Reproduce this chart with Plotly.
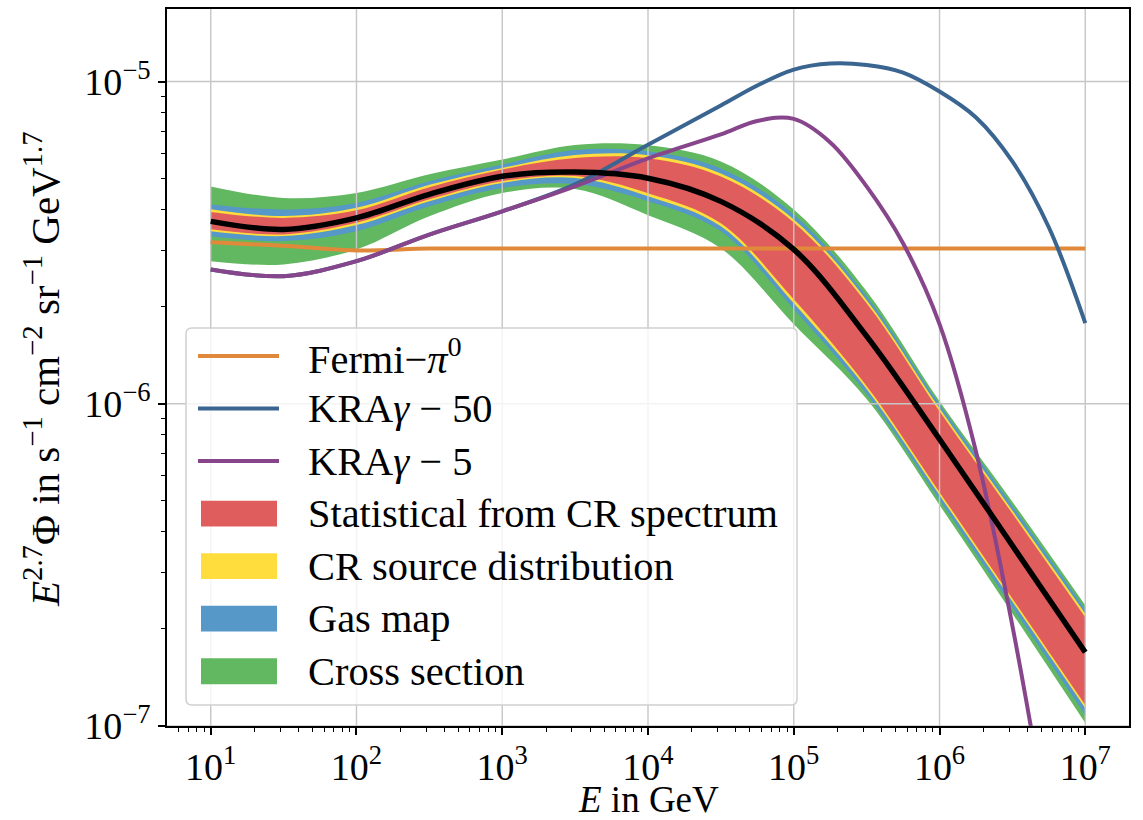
import plotly.graph_objects as go

# ---------------- data ----------------
E_band = [1e1, 3.16e1, 1e2, 3.16e2, 1e3, 3.16e3, 1e4, 3.16e4, 1e5, 3.16e5, 1e6, 3.16e6, 1e7]
central = [3.681e-6, 3.475e-6, 3.776e-6, 4.467e-6, 5.082e-6, 5.236e-6, 5.012e-6, 4.246e-6,
           3.013e-6, 1.622e-6, 7.762e-7, 3.631e-7, 1.694e-7]
stat_hi = [3.939e-6, 3.773e-6, 3.982e-6, 4.696e-6, 5.331e-6, 5.786e-6, 5.778e-6, 5.074e-6,
           3.653e-6, 2.052e-6, 9.475e-7, 4.562e-7, 2.174e-7]
stat_lo = [3.477e-6, 3.354e-6, 3.643e-6, 4.310e-6, 4.905e-6, 5.089e-6, 4.502e-6, 3.630e-6,
           2.109e-6, 1.135e-6, 5.317e-7, 2.488e-7, 1.161e-7]
src_hi = [4.011e-6, 3.822e-6, 4.054e-6, 4.780e-6, 5.393e-6, 5.911e-6, 5.903e-6, 5.184e-6,
          3.732e-6, 2.096e-6, 9.680e-7, 4.661e-7, 2.232e-7]
src_lo = [3.428e-6, 3.313e-6, 3.584e-6, 4.249e-6, 4.845e-6, 5.017e-6, 4.407e-6, 3.553e-6,
          2.050e-6, 1.111e-6, 5.204e-7, 2.435e-7, 1.136e-7]
gas_hi = [4.156e-6, 4.008e-6, 4.201e-6, 4.901e-6, 5.525e-6, 6.126e-6, 6.074e-6, 5.373e-6,
          3.868e-6, 2.157e-6, 9.961e-7, 4.829e-7, 2.302e-7]
gas_lo = [3.308e-6, 3.197e-6, 3.433e-6, 4.100e-6, 4.675e-6, 4.807e-6, 4.252e-6, 3.428e-6,
          1.964e-6, 1.072e-6, 5.022e-7, 2.333e-7, 1.081e-7]
xs_hi = [4.726e-6, 4.353e-6, 4.511e-6, 5.151e-6, 5.726e-6, 6.349e-6, 6.341e-6, 5.648e-6,
         4.008e-6, 2.235e-6, 1.018e-6, 4.969e-7, 2.369e-7]
xs_lo = [2.768e-6, 2.707e-6, 3.013e-6, 3.818e-6, 4.511e-6, 4.638e-6, 3.848e-6, 3.037e-6,
         1.765e-6, 1.034e-6, 4.847e-7, 2.236e-7, 1.021e-7]

E_fermi = [1e1, 3.16e1, 1e2, 3.16e2, 1e3, 1e4, 1e5, 1e6, 1e7]
fermi = [3.17e-6, 3.09e-6, 2.99e-6, 3.03e-6, 3.03e-6, 3.03e-6, 3.03e-6, 3.03e-6, 3.03e-6]

E_kra50 = [1e1, 3.16e1, 1e2, 3.16e2, 1e3, 3.16e3, 1e4, 3.16e4, 5.62e4, 1e5, 1.78e5, 3.16e5,
           5.62e5, 1e6, 1.78e6, 3.16e6, 5.62e6, 1e7]
kra50 = [2.611e-6, 2.489e-6, 2.770e-6, 3.350e-6, 3.956e-6, 4.797e-6, 6.368e-6, 8.426e-6,
         9.719e-6, 1.089e-5, 1.137e-5, 1.125e-5, 1.066e-5, 9.310e-6, 7.737e-6, 5.652e-6,
         3.530e-6, 1.780e-6]

E_kra5 = [1e1, 3.16e1, 1e2, 3.16e2, 1e3, 3.16e3, 1e4, 3.16e4, 5.62e4, 1e5, 1.78e5, 3.16e5,
          5.62e5, 1e6, 1.78e6, 3.16e6, 5.62e6]
kra5 = [2.611e-6, 2.489e-6, 2.770e-6, 3.350e-6, 3.956e-6, 4.727e-6, 5.774e-6, 6.851e-6,
        7.545e-6, 7.653e-6, 6.472e-6, 4.727e-6, 3.149e-6, 1.767e-6, 7.093e-7, 2.050e-7, 4.753e-8]

x_tickvals = [1e1, 1e2, 1e3, 1e4, 1e5, 1e6, 1e7]
x_ticktext = ["10<sup>1</sup>", "10<sup>2</sup>", "10<sup>3</sup>", "10<sup>4</sup>",
              "10<sup>5</sup>", "10<sup>6</sup>", "10<sup>7</sup>"]
y_tickvals = [1e-7, 1e-6, 1e-5]
y_ticktext = ["10<sup>\u22127</sup>", "10<sup>\u22126</sup>", "10<sup>\u22125</sup>"]

legend_labels = ["Fermi\u2212<i>\u03c0</i><sup>0</sup>", "KRA<i>\u03b3</i> \u2212 50",
                 "KRA<i>\u03b3</i> \u2212 5", "Statistical from CR spectrum",
                 "CR source distribution", "Gas map", "Cross section"]

# ---------------- styles ----------------
C_FERMI = "#e0893b"
C_KRA50 = "#3b6591"
C_KRA5 = "#87468b"
C_STAT = "#e05d5d"
C_SRC = "#ffdd3c"
C_GAS = "#5698c8"
C_XS = "#62b860"
FONT = "Liberation Serif"
FS_TICK = 38
FS_LEG = 40.4
FS_XT = 37
FS_YT = 41

W, H = 1143, 820
ML, MR, MT, MB = 167, 14, 7, 94
PW, PH = W - ML - MR, H - MT - MB


def px(x):
    return (x - ML) / PW


def py(y):
    return (H - MB - y) / PH


fig = go.Figure()


def band(lo, hi, col):
    fig.add_trace(go.Scatter(x=E_band, y=lo, mode="lines", line=dict(width=0, shape="spline", color=col),
                             showlegend=False, hoverinfo="skip"))
    fig.add_trace(go.Scatter(x=E_band, y=hi, mode="lines", line=dict(width=0, shape="spline", color=col),
                             fill="tonexty", fillcolor=col, showlegend=False, hoverinfo="skip"))


band(xs_lo, xs_hi, C_XS)
band(gas_lo, gas_hi, C_GAS)
band(src_lo, src_hi, C_SRC)
band(stat_lo, stat_hi, C_STAT)

# grid lines (drawn above the bands, below the curves, like the reference)
gx, gy = [], []
for v in x_tickvals:
    gx += [v, v, None]
    gy += [1e-8, 1e-4, None]
for v in y_tickvals:
    gx += [1, 1e8, None]
    gy += [v, v, None]
fig.add_trace(go.Scatter(x=gx, y=gy, mode="lines", line=dict(color="#c6c6c6", width=1.4),
                         showlegend=False, hoverinfo="skip", connectgaps=False))

fig.add_trace(go.Scatter(x=E_fermi, y=fermi, mode="lines", line=dict(color=C_FERMI, width=4, shape="spline"),
                         showlegend=False))
fig.add_trace(go.Scatter(x=E_kra50, y=kra50, mode="lines", line=dict(color=C_KRA50, width=4, shape="spline"),
                         showlegend=False))
fig.add_trace(go.Scatter(x=E_kra5, y=kra5, mode="lines", line=dict(color=C_KRA5, width=4, shape="spline"),
                         showlegend=False))
fig.add_trace(go.Scatter(x=E_band, y=central, mode="lines", line=dict(color="black", width=5.5, shape="spline"),
                         showlegend=False))

# ---------------- legend (drawn by hand, matplotlib style) ----------------
shapes = []
lx0, lx1, ly0, ly1, r = 186, 797, 327, 705, 6
rx, ry = r / PW, r / PH
x0, x1, y0, y1 = px(lx0), px(lx1), py(ly1), py(ly0)
path = (f"M {x0+rx},{y0} L {x1-rx},{y0} Q {x1},{y0} {x1},{y0+ry} L {x1},{y1-ry} Q {x1},{y1} {x1-rx},{y1} "
        f"L {x0+rx},{y1} Q {x0},{y1} {x0},{y1-ry} L {x0},{y0+ry} Q {x0},{y0} {x0+rx},{y0} Z")
shapes.append(dict(type="path", xref="paper", yref="paper", path=path, fillcolor="rgba(255,255,255,0.8)",
                   line=dict(color="#d0d0d0", width=1.5), layer="above"))

row0, dy = 355, 52.67
sw_colors = [C_FERMI, C_KRA50, C_KRA5, C_STAT, C_SRC, C_GAS, C_XS]
annotations = []
for i, (lab, col) in enumerate(zip(legend_labels, sw_colors)):
    yc = row0 + i * dy
    if i < 3:
        shapes.append(dict(type="line", xref="paper", yref="paper", x0=px(198), x1=px(279), y0=py(yc), y1=py(yc),
                           line=dict(color=col, width=4), layer="above"))
    else:
        shapes.append(dict(type="rect", xref="paper", yref="paper", x0=px(201), x1=px(277), y0=py(yc + 13),
                           y1=py(yc - 13), fillcolor=col, line=dict(width=0), layer="above"))
    annotations.append(dict(x=px(306), y=py(yc), xref="paper", yref="paper", text=lab, showarrow=False,
                            xanchor="left", yanchor="middle", font=dict(family=FONT, size=FS_LEG, color="black")))

# axis titles
annotations.append(dict(x=0.5, y=py(800), xref="paper", yref="paper", text="<i>E</i> in GeV", showarrow=False,
                        xanchor="center", yanchor="middle", font=dict(family=FONT, size=FS_XT, color="black")))
annotations.append(dict(x=px(42), y=py(368), xref="paper", yref="paper",
                        text="<i>E</i><sup>2.7</sup>\u03a6 in s<sup>\u22121</sup> cm<sup>\u22122</sup> "
                             "sr<sup>\u22121</sup> GeV<sup>1.7</sup>",
                        showarrow=False, textangle=-90, xanchor="center", yanchor="middle",
                        font=dict(family=FONT, size=FS_YT, color="black")))

axis_common = dict(type="log", ticks="outside", ticklen=7, tickwidth=1.5, tickcolor="black",
                   showline=True, linecolor="black", linewidth=1.6, mirror=True, showgrid=False,
                   zeroline=False, tickfont=dict(family=FONT, size=FS_TICK, color="black"),
                   minor=dict(ticks="outside", ticklen=4, tickwidth=1, tickcolor="black", dtick="D1",
                              showgrid=False))

fig.update_layout(
    width=W, height=H, margin=dict(l=ML, r=MR, t=MT, b=MB),
    paper_bgcolor="white", plot_bgcolor="white", showlegend=False,
    xaxis=dict(range=[0.7, 7.3], tickvals=x_tickvals, ticktext=x_ticktext, **axis_common),
    yaxis=dict(range=[-7, -4.775], tickvals=y_tickvals, ticktext=y_ticktext, **axis_common),
    shapes=shapes, annotations=annotations,
)

fig.write_html("out.html")
